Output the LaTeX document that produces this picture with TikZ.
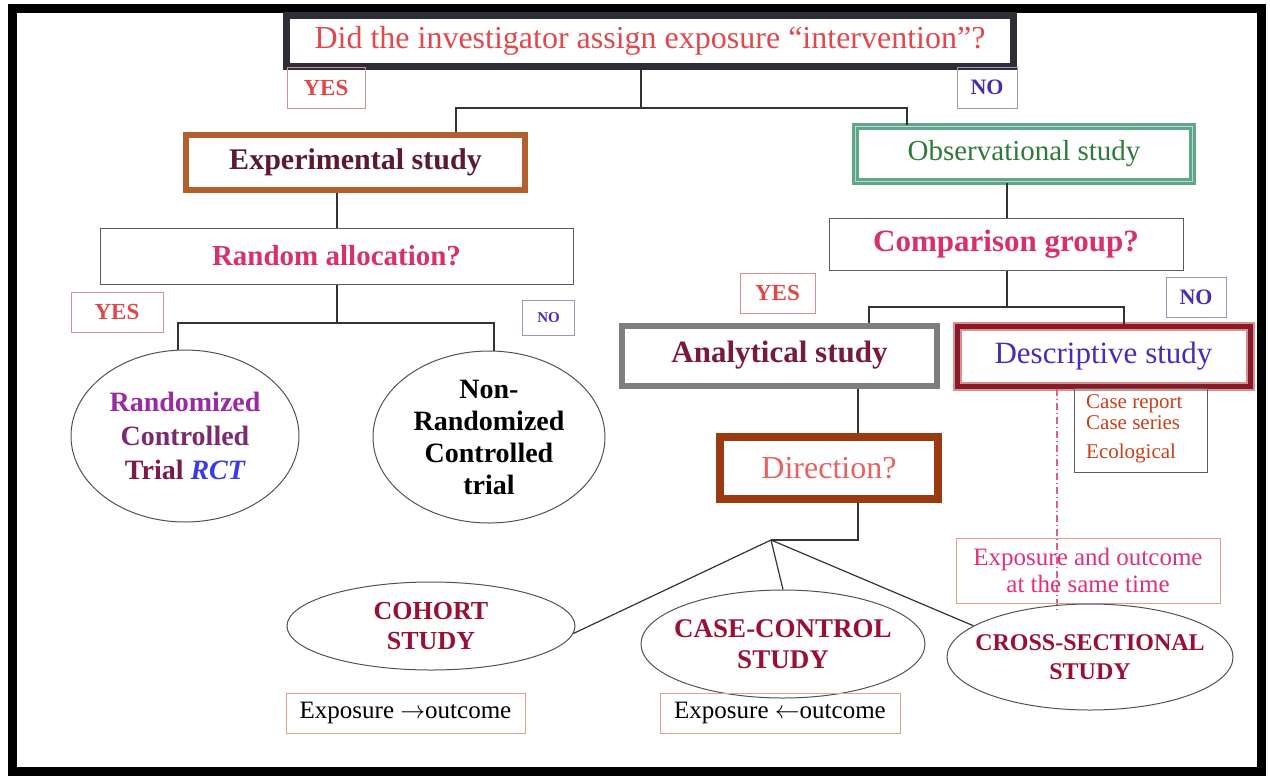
\documentclass[tikz,border=0pt]{standalone}
\usepackage{fontspec}
\setmainfont{Liberation Serif}
\usetikzlibrary{shapes.geometric}
\definecolor{qred}{HTML}{E0484E}
\definecolor{topdark}{HTML}{2E2E38}
\definecolor{yesred}{HTML}{E04848}
\definecolor{yesborder}{HTML}{D49090}
\definecolor{nopurple}{HTML}{4B2BB0}
\definecolor{noborder}{HTML}{9A9AB0}
\definecolor{expbrown}{HTML}{B2602E}
\definecolor{exptext}{HTML}{5B1A30}
\definecolor{obsgreen}{HTML}{5FA68A}
\definecolor{obslight}{HTML}{B8DCC8}
\definecolor{obstext}{HTML}{2F7A3A}
\definecolor{qpink}{HTML}{D8306A}
\definecolor{anagray}{HTML}{7E7E7E}
\definecolor{anatext}{HTML}{7A1A3A}
\definecolor{descred}{HTML}{8A1A28}
\definecolor{descpink}{HTML}{D89090}
\definecolor{desctext}{HTML}{4A2AB8}
\definecolor{casetext}{HTML}{C8401A}
\definecolor{dirbrown}{HTML}{9A3A10}
\definecolor{dirtext}{HTML}{E86060}
\definecolor{studytext}{HTML}{9A1035}
\definecolor{expoborder}{HTML}{E0A090}
\definecolor{sametext}{HTML}{E0307A}
\definecolor{dashcol}{HTML}{E06080}
\definecolor{rctpurple}{HTML}{9A2AA0}
\definecolor{rctmid}{HTML}{7A2A70}
\definecolor{rctmaroon}{HTML}{7A1A4A}
\definecolor{rctblue}{HTML}{3A3AE8}
\definecolor{linecol}{HTML}{333333}
\tikzset{
  plainbox/.style={draw=#1, line width=1pt, inner sep=0pt, align=center},
  conn/.style={draw=linecol, line width=1.2pt},
  ell/.style={ellipse, draw=linecol!85, line width=1pt, inner sep=0pt},
  elltext/.style={inner sep=0pt, align=center},
}
\begin{document}
\begin{tikzpicture}[x=1pt,y=-1pt]
\useasboundingbox (0,0) rectangle (1270,780);
\draw[line width=9pt] (12.5,8.5) rectangle (1261.5,771.5);

% top question
\node[draw=topdark, line width=7pt, inner sep=0pt, minimum width=727pt, minimum height=51pt,
      text=qred, font=\fontsize{32}{34}\selectfont] (q) at (650,41)
      {Did the investigator assign exposure “intervention”?};
\node[plainbox=yesborder, minimum width=78pt, minimum height=41pt, text=yesred,
      font=\bfseries\fontsize{23}{26}\selectfont] (yes1) at (326,87.5) {YES};
\node[plainbox=noborder, minimum width=60pt, minimum height=41pt, text=nopurple,
      font=\bfseries\fontsize{22}{26}\selectfont] (no1) at (987,87.5) {NO};

% level 2
\node[draw=expbrown, line width=6pt, inner sep=0pt, minimum width=339pt, minimum height=55pt,
      text=exptext, font=\bfseries\fontsize{30}{34}\selectfont] (exp) at (355.5,162.5) {Experimental study};
\node[draw=obsgreen, line width=2.8pt, double=obslight, double distance=1.5pt, inner sep=0pt,
      minimum width=337pt, minimum height=55pt,
      text=obstext, font=\fontsize{29}{32}\selectfont] (obs) at (1024,154) {Observational study};

\coordinate (j1) at (641,108);
\coordinate (j1L) at (456,108);
\coordinate (j1R) at (907,108);
\draw[conn] (j1 |- q.south) -- (j1);
\draw[conn] (j1L |- exp.north) -- (j1L) -- (j1R) -- (j1R |- obs.north);

% experimental branch
\node[plainbox=linecol!80, minimum width=473pt, minimum height=56pt, text=qpink,
      font=\bfseries\fontsize{29}{32}\selectfont] (ra) at (336.5,256) {Random allocation?};
\coordinate (v2) at (337,210);
\draw[conn] (v2 |- exp.south) -- (v2 |- ra.north);

\node[plainbox=yesborder, minimum width=92pt, minimum height=40pt, text=yesred,
      font=\bfseries\fontsize{23}{26}\selectfont] (yes2) at (117,312) {YES};
\node[plainbox=noborder, minimum width=52pt, minimum height=35pt, text=nopurple,
      font=\bfseries\fontsize{15}{18}\selectfont] (no2) at (548.5,317.5) {NO};

\node[ell, minimum width=228pt, minimum height=172pt] (rct) at (185,436) {};
\node[elltext, font=\bfseries\fontsize{28}{34}\selectfont] (rcttext) at (rct.center)
  {\textcolor{rctpurple}{Randomized}\\ \textcolor{rctmid}{Controlled}\\ \textcolor{rctmaroon}{Trial} \textcolor{rctblue}{\itshape RCT}};
\node[ell, minimum width=232pt, minimum height=172pt] (nrct) at (489,437) {};
\node[elltext, font=\bfseries\fontsize{28}{32}\selectfont] (nrcttext) at (nrct.center)
  {Non-\\Randomized\\Controlled\\trial};

\coordinate (j2) at (337,323);
\coordinate (j2L) at (178,323);
\coordinate (j2R) at (494,323);
\draw[conn] (j2 |- ra.south) -- (j2);
\draw[conn] (j2L |- rct.north) -- (j2L) -- (j2R) -- (j2R |- nrct.north);

% observational branch
\node[plainbox=linecol!80, minimum width=354pt, minimum height=52pt, text=qpink,
      font=\bfseries\fontsize{31}{34}\selectfont] (cg) at (1006,244) {Comparison group?};
\coordinate (v3) at (1007,200);
\draw[conn] (v3 |- obs.south) -- (v3 |- cg.north);

\node[plainbox=yesborder, minimum width=75pt, minimum height=40pt, text=yesred,
      font=\bfseries\fontsize{23}{26}\selectfont] (yes3) at (777.5,293) {YES};
\node[plainbox=noborder, minimum width=60pt, minimum height=40pt, text=nopurple,
      font=\bfseries\fontsize{22}{26}\selectfont] (no3) at (1196,297) {NO};

\node[draw=anagray, line width=6pt, inner sep=0pt, minimum width=315pt, minimum height=60pt,
      text=anatext, font=\bfseries\fontsize{31}{34}\selectfont] (ana) at (779.5,355.5) {Analytical study};
\node[draw=descpink, line width=9pt, inner sep=0pt, minimum width=293pt, minimum height=60pt] (descbg) at (1103.5,356) {};
\node[draw=descred, line width=5pt, inner sep=0pt, minimum width=293pt, minimum height=60pt,
      text=desctext, font=\fontsize{31}{34}\selectfont] (desc) at (1103.5,356) {Descriptive study};

\coordinate (j3) at (1007,307);
\coordinate (j3L) at (869,307);
\coordinate (j3R) at (1124,307);
\draw[conn] (j3 |- cg.south) -- (j3);
\draw[conn] (j3L |- ana.north) -- (j3L) -- (j3R) -- (j3R |- desc.north);

\node[plainbox=linecol!80, minimum width=133pt, minimum height=84pt, anchor=north] (cases) at (1141,388) {};
\node[text=casetext, align=left, inner sep=0pt, anchor=north west, font=\fontsize{21}{21}\selectfont] (caselist) at (1086,394)
  {Case report\\Case series\\[8pt]Ecological};

\coordinate (dbot) at (1057,610);
\draw[draw=dashcol, line width=1.2pt, dash pattern=on 7pt off 3pt on 1pt off 3pt] (dbot |- desc.south) -- (dbot);

\node[plainbox=expoborder, minimum width=264pt, minimum height=65pt, text=sametext,
      font=\fontsize{25}{27}\selectfont] (same) at (1088,570.5) {Exposure and outcome\\at the same time};

% direction
\node[draw=dirbrown, line width=8pt, inner sep=0pt, minimum width=218pt, minimum height=62pt,
      text=dirtext, font=\fontsize{32}{34}\selectfont] (dir) at (829,468) {Direction?};
\coordinate (v4) at (858,410);
\draw[conn] (v4 |- ana.south) -- (v4 |- dir.north);
\coordinate (apex) at (771,540);
\draw[conn] (v4 |- dir.south) -- (v4 |- apex) -- (apex);

\node[ell, minimum width=288pt, minimum height=88pt] (coh) at (431,626) {};
\node[elltext, text=studytext, font=\bfseries\fontsize{26}{30}\selectfont] (cohtext) at (coh.center) {COHORT\\STUDY};
\node[ell, minimum width=284pt, minimum height=108pt] (cc) at (783,644) {};
\node[elltext, text=studytext, font=\bfseries\fontsize{27}{31}\selectfont] (cctext) at (cc.center) {CASE-CONTROL\\STUDY};
\node[ell, minimum width=286pt, minimum height=106pt] (cs) at (1090,657) {};
\node[elltext, text=studytext, font=\bfseries\fontsize{24}{29}\selectfont] (cstext) at (cs.center) {CROSS-SECTIONAL\\STUDY};

\draw[conn] (apex) -- (coh.-3);
\draw[conn] (apex) -- (cc.north);
\draw[conn] (apex) -- (cs.165);

\node[plainbox=expoborder, minimum width=239pt, minimum height=40pt,
      font=\fontsize{25}{27}\selectfont] (e1) at (405.5,713) {Exposure $\rightarrow$outcome};
\node[plainbox=expoborder, minimum width=240pt, minimum height=40pt,
      font=\fontsize{25}{27}\selectfont] (e2) at (780,713) {Exposure $\leftarrow$outcome};
\end{tikzpicture}
\end{document}
